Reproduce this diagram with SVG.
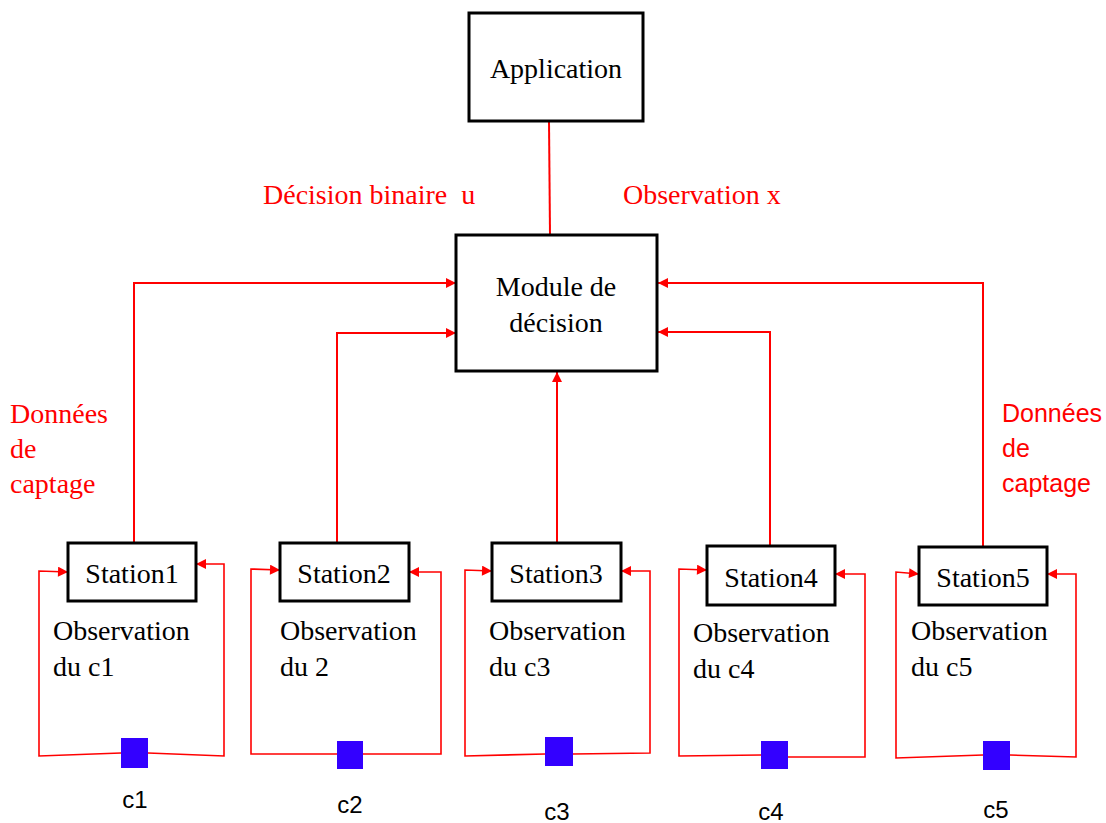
<svg xmlns="http://www.w3.org/2000/svg" width="1106" height="823" viewBox="0 0 1106 823">
  <defs>
    <marker id="arrow" viewBox="0 0 10 10" refX="10" refY="5" markerWidth="12" markerHeight="10" markerUnits="userSpaceOnUse" orient="auto">
      <path d="M0,0 L10,5 L0,10 z" fill="#ff0000"/>
    </marker>
    <style>
      .box { fill: #ffffff; stroke: #000000; stroke-width: 3; }
      .lbl { font-family: "Liberation Serif", "Times New Roman", serif; font-size: 28px; fill: #000000; }
      .red { font-family: "Liberation Serif", "Times New Roman", serif; font-size: 28px; fill: #ff0000; white-space: pre; }
      .redsans { font-family: "Liberation Sans", Arial, sans-serif; font-size: 25px; fill: #ff0000; }
      .cap { font-family: "Liberation Sans", Arial, sans-serif; font-size: 24px; fill: #000000; text-anchor: middle; }
      .wire { fill: none; stroke: #ff0000; stroke-width: 2; }
      .loop { fill: none; stroke: #ff0000; stroke-width: 1.6; }
      .sensor { fill: #3300ff; }
    </style>
  </defs>
  <rect width="1106" height="823" fill="#ffffff"/>

  <!-- connectors -->
  <g id="connectors">
    <polyline class="wire" points="549,121 550,235"/>
    <polyline class="wire" points="134,543 134,283 456,283" marker-end="url(#arrow)"/>
    <polyline class="wire" points="337,543 337,333 456,333" marker-end="url(#arrow)"/>
    <polyline class="wire" points="557,543 557,372" marker-end="url(#arrow)"/>
    <polyline class="wire" points="770,546 770,332 658,332" marker-end="url(#arrow)"/>
    <polyline class="wire" points="983,547 983,283 658,283" marker-end="url(#arrow)"/>

    <!-- sensor loops -->
    <polyline class="loop" points="121,753 39,756 39,571 68,572" marker-end="url(#arrow)"/>
    <polyline class="loop" points="148,753 224,756 224,564 196,564" marker-end="url(#arrow)"/>

    <polyline class="loop" points="337,754 251,754 251,569 280,570" marker-end="url(#arrow)"/>
    <polyline class="loop" points="363,754 441,754 441,572 409,572" marker-end="url(#arrow)"/>

    <polyline class="loop" points="545,754 465,756 465,570 492,571" marker-end="url(#arrow)"/>
    <polyline class="loop" points="573,754 650,753 650,571 621,571" marker-end="url(#arrow)"/>

    <polyline class="loop" points="761,755 679,756 679,569 707,570" marker-end="url(#arrow)"/>
    <polyline class="loop" points="788,757 865,757 865,574 835,574" marker-end="url(#arrow)"/>

    <polyline class="loop" points="983,755 896,758 896,572 919,574" marker-end="url(#arrow)"/>
    <polyline class="loop" points="1010,755 1076,757 1076,574 1047,574" marker-end="url(#arrow)"/>
  </g>

  <!-- annotations -->
  <g id="annotations">
    <text class="red" x="263" y="204" xml:space="preserve">Décision binaire  u</text>
    <text class="red" x="623" y="204">Observation x</text>
    <text class="red" x="10" y="423">Données</text>
    <text class="red" x="10" y="458">de</text>
    <text class="red" x="10" y="493">captage</text>
    <text class="redsans" x="1002" y="422">Données</text>
    <text class="redsans" x="1002" y="457">de</text>
    <text class="redsans" x="1002" y="492">captage</text>
  </g>

  <g id="application">
    <rect class="box" x="469" y="13" width="174" height="108"/>
    <text class="lbl" x="556" y="78" text-anchor="middle">Application</text>
  </g>

  <g id="module-decision">
    <rect class="box" x="456" y="235" width="201" height="136"/>
    <text class="lbl" x="556" y="296" text-anchor="middle">Module de</text>
    <text class="lbl" x="556" y="332" text-anchor="middle">décision</text>
  </g>

  <g id="station1">
    <rect class="box" x="68" y="543" width="128" height="58"/>
    <text class="lbl" x="132" y="583" text-anchor="middle">Station1</text>
    <text class="lbl" x="53" y="640">Observation</text>
    <text class="lbl" x="53" y="676">du c1</text>
  </g>
  <g id="station2">
    <rect class="box" x="280" y="543" width="129" height="58"/>
    <text class="lbl" x="344" y="583" text-anchor="middle">Station2</text>
    <text class="lbl" x="280" y="640">Observation</text>
    <text class="lbl" x="280" y="676">du 2</text>
  </g>
  <g id="station3">
    <rect class="box" x="492" y="543" width="129" height="58"/>
    <text class="lbl" x="556" y="583" text-anchor="middle">Station3</text>
    <text class="lbl" x="489" y="640">Observation</text>
    <text class="lbl" x="489" y="676">du c3</text>
  </g>
  <g id="station4">
    <rect class="box" x="707" y="546" width="128" height="59"/>
    <text class="lbl" x="771" y="587" text-anchor="middle">Station4</text>
    <text class="lbl" x="693" y="642">Observation</text>
    <text class="lbl" x="693" y="678">du c4</text>
  </g>
  <g id="station5">
    <rect class="box" x="919" y="547" width="128" height="58"/>
    <text class="lbl" x="983" y="587" text-anchor="middle">Station5</text>
    <text class="lbl" x="911" y="640">Observation</text>
    <text class="lbl" x="911" y="676">du c5</text>
  </g>

  <g id="sensor-c1">
    <rect class="sensor" x="121" y="738" width="27" height="30"/>
    <text class="cap" x="135" y="808">c1</text>
  </g>
  <g id="sensor-c2">
    <rect class="sensor" x="337" y="741" width="26" height="28"/>
    <text class="cap" x="350" y="813">c2</text>
  </g>
  <g id="sensor-c3">
    <rect class="sensor" x="545" y="737" width="28" height="29"/>
    <text class="cap" x="557" y="820">c3</text>
  </g>
  <g id="sensor-c4">
    <rect class="sensor" x="761" y="741" width="27" height="28"/>
    <text class="cap" x="771" y="820">c4</text>
  </g>
  <g id="sensor-c5">
    <rect class="sensor" x="983" y="741" width="27" height="29"/>
    <text class="cap" x="996" y="818">c5</text>
  </g>
</svg>
